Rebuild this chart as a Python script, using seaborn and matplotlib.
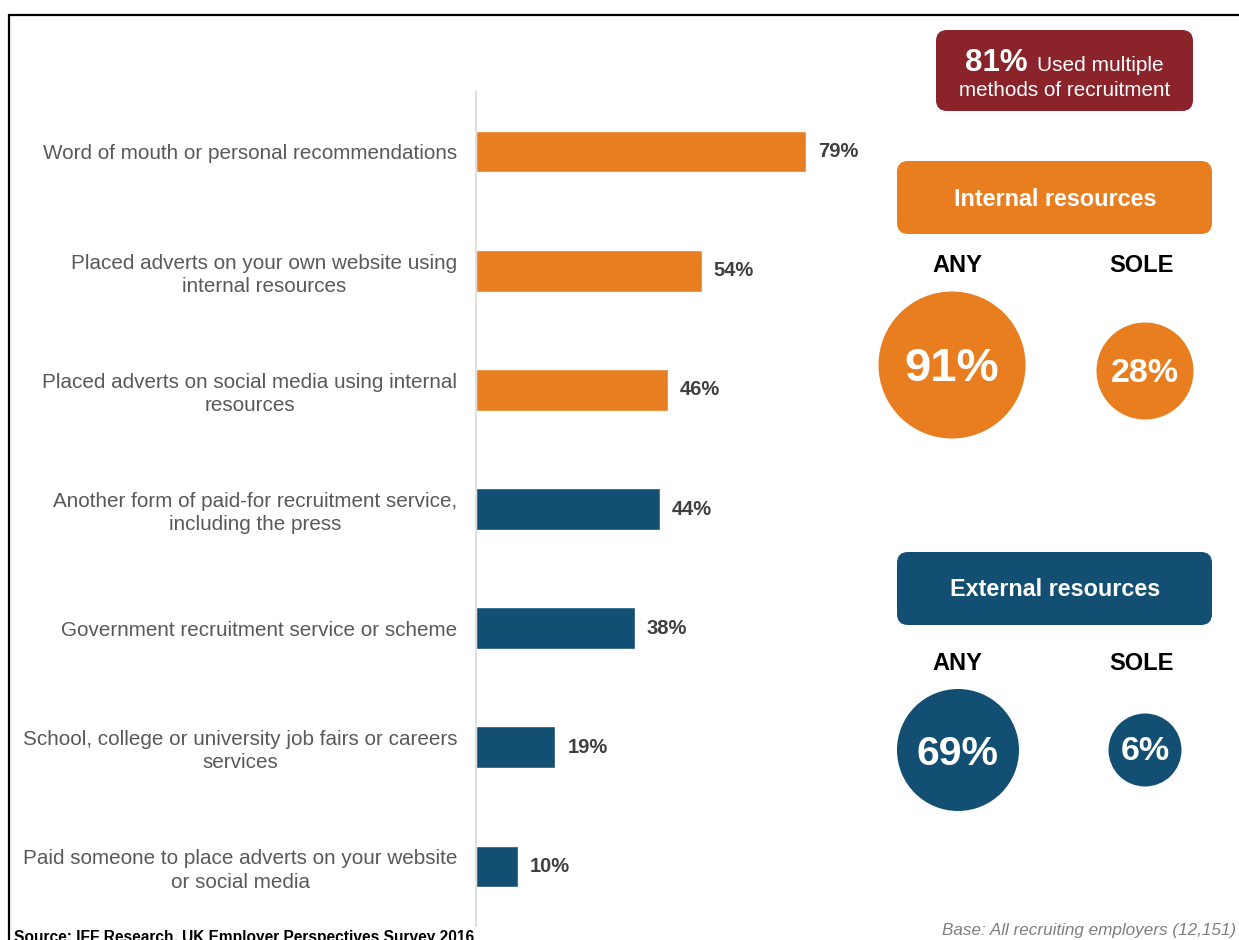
import matplotlib
matplotlib.use("Agg")
import matplotlib.pyplot as plt
import seaborn as sns
import pandas as pd
from matplotlib.patches import FancyBboxPatch, Circle
from matplotlib.lines import Line2D

# Recruitment methods used by employers (% of recruiting employers)
methods = [
    "Word of mouth or personal recommendations",
    "Placed adverts on your own website using\ninternal resources",
    "Placed adverts on social media using internal\nresources",
    "Another form of paid-for recruitment service,\nincluding the press",
    "Government recruitment service or scheme",
    "School, college or university job fairs or careers\nservices",
    "Paid someone to place adverts on your website\nor social media",
]
shares = [79, 54, 46, 44, 38, 19, 10]
resource_type = ["Internal", "Internal", "Internal",
                 "External", "External", "External", "External"]

# Summary figures
multiple_methods = 81
internal_any, internal_sole = 91, 28
external_any, external_sole = 69, 6

ORANGE = "#E87E1F"
BLUE = "#124F73"
DARK_RED = "#8A242A"
LABEL_GREY = "#595959"
VALUE_GREY = "#404040"

sns.set_theme(style="white")
plt.rcParams["font.family"] = ["Liberation Sans", "DejaVu Sans"]

W, H = 1239, 940
fig = plt.figure(figsize=(W / 100, H / 100), dpi=100)

df = pd.DataFrame({"method": methods, "share": shares, "resource": resource_type})

# Bar chart panel
ax = fig.add_axes([476 / W, 1 - 926 / H, 417.7 / W, (926 - 92) / H])
sns.barplot(data=df, x="share", y="method", hue="resource",
            palette={"Internal": ORANGE, "External": BLUE},
            dodge=False, width=0.35, legend=False, ax=ax, saturation=1)
ax.set_xlim(0, 100)
ax.set_ylim(6.5, -0.5)
ax.set_xlabel("")
ax.set_ylabel("")
ax.set_xticks([])
for s in ["top", "right", "bottom"]:
    ax.spines[s].set_visible(False)
ax.spines["left"].set_color("#D9D9D9")
ax.spines["left"].set_linewidth(1.2)
ax.tick_params(axis="y", length=0, pad=13.5)
ax.set_yticks(range(len(methods)))
ax.set_yticklabels(methods, fontsize=14.9, color=LABEL_GREY,
                   multialignment="center", linespacing=1.28)
ax.patch.set_alpha(0)

for i, v in enumerate(shares):
    ax.text(v + 2.85, i, f"{v}%", va="center", ha="left",
            fontsize=14.5, fontweight="bold", color=VALUE_GREY)

# Overlay panel in pixel coordinates for the summary graphics
ov = fig.add_axes([0, 0, 1, 1])
ov.set_xlim(0, W)
ov.set_ylim(H, 0)
ov.axis("off")
ov.patch.set_alpha(0)

# Frame lines
ov.add_line(Line2D([9, W], [15, 15], color="black", lw=1.6))
ov.add_line(Line2D([9, 9], [15, H], color="black", lw=1.6))

# Multiple methods box
ov.add_patch(FancyBboxPatch((936, 30), 257, 81,
                            boxstyle="round,pad=0,rounding_size=11",
                            fc=DARK_RED, ec="none"))
ov.text(1028, 71, f"{multiple_methods}%", ha="right", va="baseline",
        fontsize=22.5, fontweight="bold", color="white")
ov.text(1037, 71, "Used multiple", ha="left", va="baseline",
        fontsize=15, color="white")
ov.text(1064.5, 96, "methods of recruitment", ha="center", va="baseline",
        fontsize=14.9, color="white")


def resource_block(y_box, y_head, colour, title, any_val, sole_val,
                   x_any, y_any, r_any, fs_any, y_sole, r_sole, fs_sole):
    ov.add_patch(FancyBboxPatch((897, y_box), 315, 73,
                                boxstyle="round,pad=0,rounding_size=11",
                                fc=colour, ec="none"))
    ov.text(1055, y_box + 38, title, ha="center", va="center",
            fontsize=16.8, fontweight="bold", color="white")
    ov.text(957, y_head, "ANY", ha="center", va="center",
            fontsize=17, fontweight="bold", color="black")
    ov.text(1141, y_head, "SOLE", ha="center", va="center",
            fontsize=17, fontweight="bold", color="black")
    ov.add_patch(Circle((x_any, y_any), r_any, fc=colour, ec="none"))
    ov.add_patch(Circle((1145, y_sole), r_sole, fc=colour, ec="none"))
    ov.text(x_any, y_any + 4, f"{any_val}%", ha="center", va="center",
            fontsize=fs_any, fontweight="bold", color="white")
    ov.text(1145, y_sole + 2, f"{sole_val}%", ha="center", va="center",
            fontsize=fs_sole, fontweight="bold", color="white")


resource_block(161, 266, ORANGE, "Internal resources",
               internal_any, internal_sole, 952, 365, 73.5, 34, 371, 48.5, 24.5)
resource_block(552, 663, BLUE, "External resources",
               external_any, external_sole, 958, 750, 61, 29.5, 750, 36.5, 24.5)

# Footnotes
ov.text(14, 930, "Source: IFF Research, UK Employer Perspectives Survey 2016",
        ha="left", va="top", fontsize=11.2, fontweight="bold", color="black")
ov.text(1236, 930, "Base: All recruiting employers (12,151)", ha="right",
        va="center", fontsize=12.3, style="italic", color="#7F7F7F")

fig.savefig("out.png", dpi=100)
